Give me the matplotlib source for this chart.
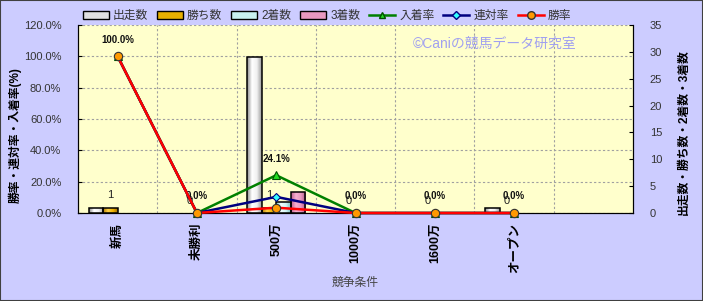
import numpy as np
import matplotlib
matplotlib.use('Agg')
import matplotlib.pyplot as plt
from matplotlib.colors import LinearSegmentedColormap
from matplotlib.patches import Patch, Rectangle
from matplotlib.lines import Line2D
from matplotlib.ticker import FuncFormatter

plt.rcParams['font.family'] = ['Liberation Sans', 'Noto Sans CJK JP']

categories = ['新馬', '未勝利', '500万', '1000万', '1600万', 'オープン', '']
starts = [1, 0, 29, 0, 0, 1, 0]
wins = [1, 0, 1, 0, 0, 0, 0]
seconds = [0, 0, 2, 0, 0, 0, 0]
thirds = [0, 0, 4, 0, 0, 0, 0]
# rates (%) for the six classes with data
place_rate = [100.0, 0.0, 24.1, 0.0, 0.0, 0.0]
rentai_rate = [100.0, 0.0, 10.3, 0.0, 0.0, 0.0]
win_rate = [100.0, 0.0, 3.4, 0.0, 0.0, 0.0]

fig = plt.figure(figsize=(7.03, 3.01), dpi=100)
fig.patch.set_facecolor('#CCCCFF')
rect = [78 / 703, 1 - 213 / 301, (633 - 78) / 703, (213 - 25) / 301]

ax = fig.add_axes(rect)          # background + grid + left axis
ax.set_facecolor('#FFFFCC')
axb = ax.twinx()                 # bars, right axis
axl = fig.add_axes(rect)         # lines on top
axl.patch.set_visible(False)

x = np.arange(len(categories))
xlim = (-0.5, len(categories) - 0.5)

# grid
ax.set_yticks(np.arange(0, 121, 20))
ax.yaxis.set_major_formatter(FuncFormatter(lambda v, p: f'{v:.1f}%'))
ax.set_xticks(x)
ax.set_xticklabels(categories, rotation=90, fontsize=9, fontweight='bold', va='top')
ax.set_xticks(x[:-1] + 0.5, minor=True)
ax.grid(axis='y', color='#A0A0A0', lw=0.8, ls=(0, (2, 2)))
ax.grid(axis='x', which='minor', color='#A0A0A0', lw=0.8, ls=(0, (2, 2)))
ax.tick_params(axis='x', which='both', length=0, pad=7)
ax.tick_params(axis='y', direction='in', length=3, pad=12, labelsize=8, labelcolor='#333333')
axb.set_yticks(np.arange(0, 36, 5))
axb.tick_params(axis='y', direction='in', length=3, pad=12, labelsize=8, labelcolor='#333333')
axl.set_xticks([])
axl.set_yticks([])
for a in (ax, axb):
    a.spines['top'].set_visible(False)
for s in axl.spines.values():
    s.set_visible(False)
ax.set_axisbelow(True)

# bars with a cylinder-like gradient
w = 0.183
bar_sets = [
    (starts, -1.5, ['#8C8C8C', '#FFFFFF', '#F0F0F0', '#9A9A9A'], '#E0E0E0', '出走数'),
    (wins, -0.5, ['#B07800', '#FFD24A', '#F0B400', '#A06C00'], '#E8B000', '勝ち数'),
    (seconds, 0.5, ['#88CCCC', '#F0FFFF', '#D0F4F4', '#80C0C0'], '#C8F0F0', '2着数'),
    (thirds, 1.5, ['#C06090', '#F8B0D0', '#E898C0', '#B05888'], '#E898C0', '3着数'),
]
grad = np.linspace(0, 1, 64).reshape(1, -1)
handles = []
for vals, off, cols, solid, name in bar_sets:
    cmap = LinearSegmentedColormap.from_list(name, cols)
    bars = axb.bar(x + off * w, vals, w, facecolor='none', edgecolor='black', lw=1.1, zorder=3)
    for b, v in zip(bars, vals):
        if v <= 0:
            b.set_visible(False)
            continue
        im = axb.imshow(grad, cmap=cmap, aspect='auto', zorder=2,
                        extent=(b.get_x(), b.get_x() + b.get_width(), 0, b.get_height()))
        im.set_clip_path(b)
    handles.append(Patch(facecolor=solid, edgecolor='black', lw=1, label=name))

# win-count labels
for xi, v in zip(x[:6], wins[:6]):
    axb.annotate(str(v), (xi - 0.5 * w, v), xytext=(0, 9), textcoords='offset points',
                 ha='center', va='center', fontsize=8, color='#222222')

# rate lines
xl = x[:6]
axl.plot(xl, place_rate, color='#008000', lw=1.8, marker='^', ms=6,
         mfc='#22DD22', mec='#005000', mew=0.8, clip_on=False, zorder=3)
axl.plot(xl, rentai_rate, color='#000080', lw=1.8, marker='D', ms=4.5,
         mfc='#33FFFF', mec='#000080', mew=0.8, clip_on=False, zorder=4)
axl.plot(xl, win_rate, color='#FF0000', lw=1.8, marker='o', ms=6,
         mfc='#FF9900', mec='#333333', mew=0.8, clip_on=False, zorder=5)
handles += [
    Line2D([], [], color='#008000', lw=1.8, marker='^', ms=5, mfc='#22DD22', mec='#005000', label='入着率'),
    Line2D([], [], color='#000080', lw=1.8, marker='D', ms=4, mfc='#33FFFF', mec='#000080', label='連対率'),
    Line2D([], [], color='#FF0000', lw=1.8, marker='o', ms=5.5, mfc='#FF9900', mec='#333333', label='勝率'),
]

for xi, v in zip(xl, place_rate):
    axl.annotate(f'{v:.1f}%', (xi, v), xytext=(0, 12), textcoords='offset points',
                 ha='center', va='center', fontsize=7, fontweight='bold', color='#111111')

for a in (ax, axb, axl):
    a.set_xlim(*xlim)
ax.set_ylim(0, 120)
axl.set_ylim(0, 120)
axb.set_ylim(0, 35)

# titles
fig.text(15 / 703, 1 - 135 / 301, '勝率・連対率・入着率(%)', rotation=90,
         ha='center', va='center', fontsize=8.5, fontweight='bold')
fig.text(684 / 703, 1 - 132 / 301, '出走数・勝ち数・2着数・3着数', rotation=90,
         ha='center', va='center', fontsize=8.5, fontweight='bold')
fig.text(355 / 703, 1 - 283 / 301, '競争条件', ha='center', va='center',
         fontsize=8.5, color='#444444')
fig.text(495 / 703, 1 - 44 / 301, '©Caniの競馬データ研究室', ha='center', va='center',
         fontsize=10, color='#A0A0F0')

fig.legend(handles=handles, loc='center', bbox_to_anchor=(327 / 703, 1 - 16 / 301),
           ncol=7, frameon=False, fontsize=8.5, handlelength=2.2, handletextpad=0.35,
           columnspacing=0.75, labelcolor='#333333')

fig.patches.append(Rectangle((0, 0), 1, 1, transform=fig.transFigure, fill=False,
                             edgecolor='#404040', lw=1.5))

fig.savefig('out.png', dpi=100, facecolor=fig.get_facecolor())
